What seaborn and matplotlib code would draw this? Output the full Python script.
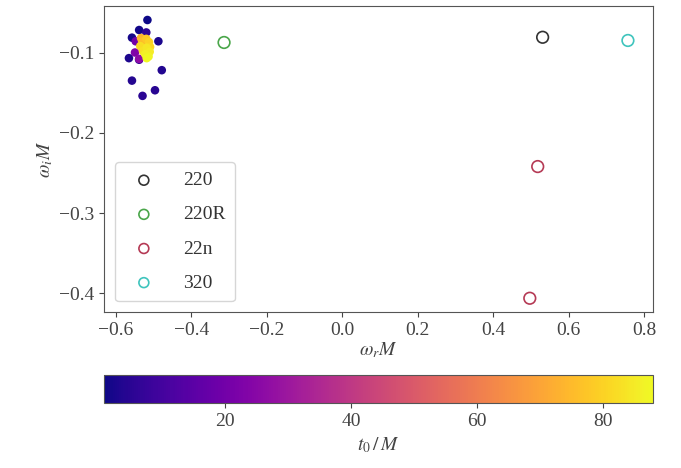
"""QNM fit frequencies vs. known overtone values
=============================================
omega_r M / omega_i M of the fitted mode, coloured by start time t0/M,
with the reference 220, 220R, 22n and 320 frequencies as open circles.
"""

import numpy as np
import pandas as pd
import seaborn as sns
import matplotlib as mpl
from matplotlib import pyplot as plt

###############################################################################
# Fitted frequencies, t0 / M for each fit
t0 = [1, 1.5, 2, 2.5, 3, 3.5, 4, 4.5, 5, 5.5, 6,
      20, 23, 26, 40, 52, 62, 70,
      74, 76, 78, 80, 81, 82, 83, 84, 85, 86, 87, 88]
omega_r = [-0.516, -0.538, -0.557, -0.487, -0.565, -0.478, -0.557, -0.496, -0.529, -0.519, -0.538,
           -0.547, -0.549, -0.538, -0.525, -0.522, -0.520, -0.524,
           -0.533, -0.530, -0.519, -0.512, -0.509, -0.535, -0.528, -0.518, -0.510, -0.522, -0.513, -0.518]
omega_i = [-0.0595, -0.072, -0.0815, -0.086, -0.107, -0.122, -0.135, -0.147, -0.154, -0.075, -0.109,
           -0.086, -0.100, -0.108, -0.092, -0.095, -0.088, -0.100,
           -0.082, -0.086, -0.083, -0.087, -0.093, -0.092, -0.098, -0.094, -0.099, -0.102, -0.105, -0.107]

# reference modes
mode_labels = ["220", "220R", "22n", "320"]
mode_colors = ["#333333", "#4aa64a", "#b53a55", "#3fc4bd"]
mode_wr = [[0.531], [-0.313], [0.518, 0.497], [0.757]]
mode_wi = [[-0.081], [-0.0875], [-0.242, -0.406], [-0.085]]

t0_min, t0_max = 0.7, 88

###############################################################################
sns.set_style("ticks")
plt.rcParams["font.family"] = ["Liberation Serif", "DejaVu Serif"]
plt.rcParams["mathtext.fontset"] = "stix"
plt.rcParams["font.size"] = 14
plt.rcParams["axes.edgecolor"] = "#555555"
plt.rcParams["xtick.color"] = "#444444"
plt.rcParams["ytick.color"] = "#444444"

fig = plt.figure(figsize=(6.81, 4.68), dpi=100)
ax = fig.add_axes([0.1527, 0.333, 0.806, 0.654])
cax = fig.add_axes([0.1527, 0.139, 0.806, 0.060])

fits = pd.DataFrame({"wr": omega_r, "wi": omega_i, "t0": t0})
norm = mpl.colors.Normalize(vmin=t0_min, vmax=t0_max)
sns.scatterplot(data=fits, x="wr", y="wi", hue="t0", palette="plasma",
                hue_norm=norm, s=38, linewidth=0, legend=False, ax=ax)

for lab, col, xr, yi in zip(mode_labels, mode_colors, mode_wr, mode_wi):
    sns.scatterplot(x=xr, y=yi, ax=ax, s=70, marker="o", facecolors="none",
                    edgecolor=col, linewidth=1.2, label=lab)

ax.set_xlabel(r"$\omega_r M$", color="#444444", labelpad=1)
ax.set_ylabel(r"$\omega_i M$", color="#444444", labelpad=3)
ax.set_xticks([-0.6, -0.4, -0.2, 0.0, 0.2, 0.4, 0.6, 0.8])
ax.set_yticks([-0.1, -0.2, -0.3, -0.4])

leg = ax.legend(loc="lower left", labelspacing=0.85, handletextpad=1.0,
                borderpad=0.5, borderaxespad=0.55, markerscale=0.85, frameon=True)
leg.get_frame().set_edgecolor("#cccccc")
for t in leg.get_texts():
    t.set_color("#333333")

# colour bar for t0
sm = mpl.cm.ScalarMappable(norm=norm, cmap="plasma")
cb = fig.colorbar(sm, cax=cax, orientation="horizontal")
cb.set_ticks([20, 40, 60, 80])
cb.set_label(r"$t_0\,/\,M$", color="#444444")
cb.outline.set_edgecolor("#555555")

fig.savefig("out.png", dpi=100)
